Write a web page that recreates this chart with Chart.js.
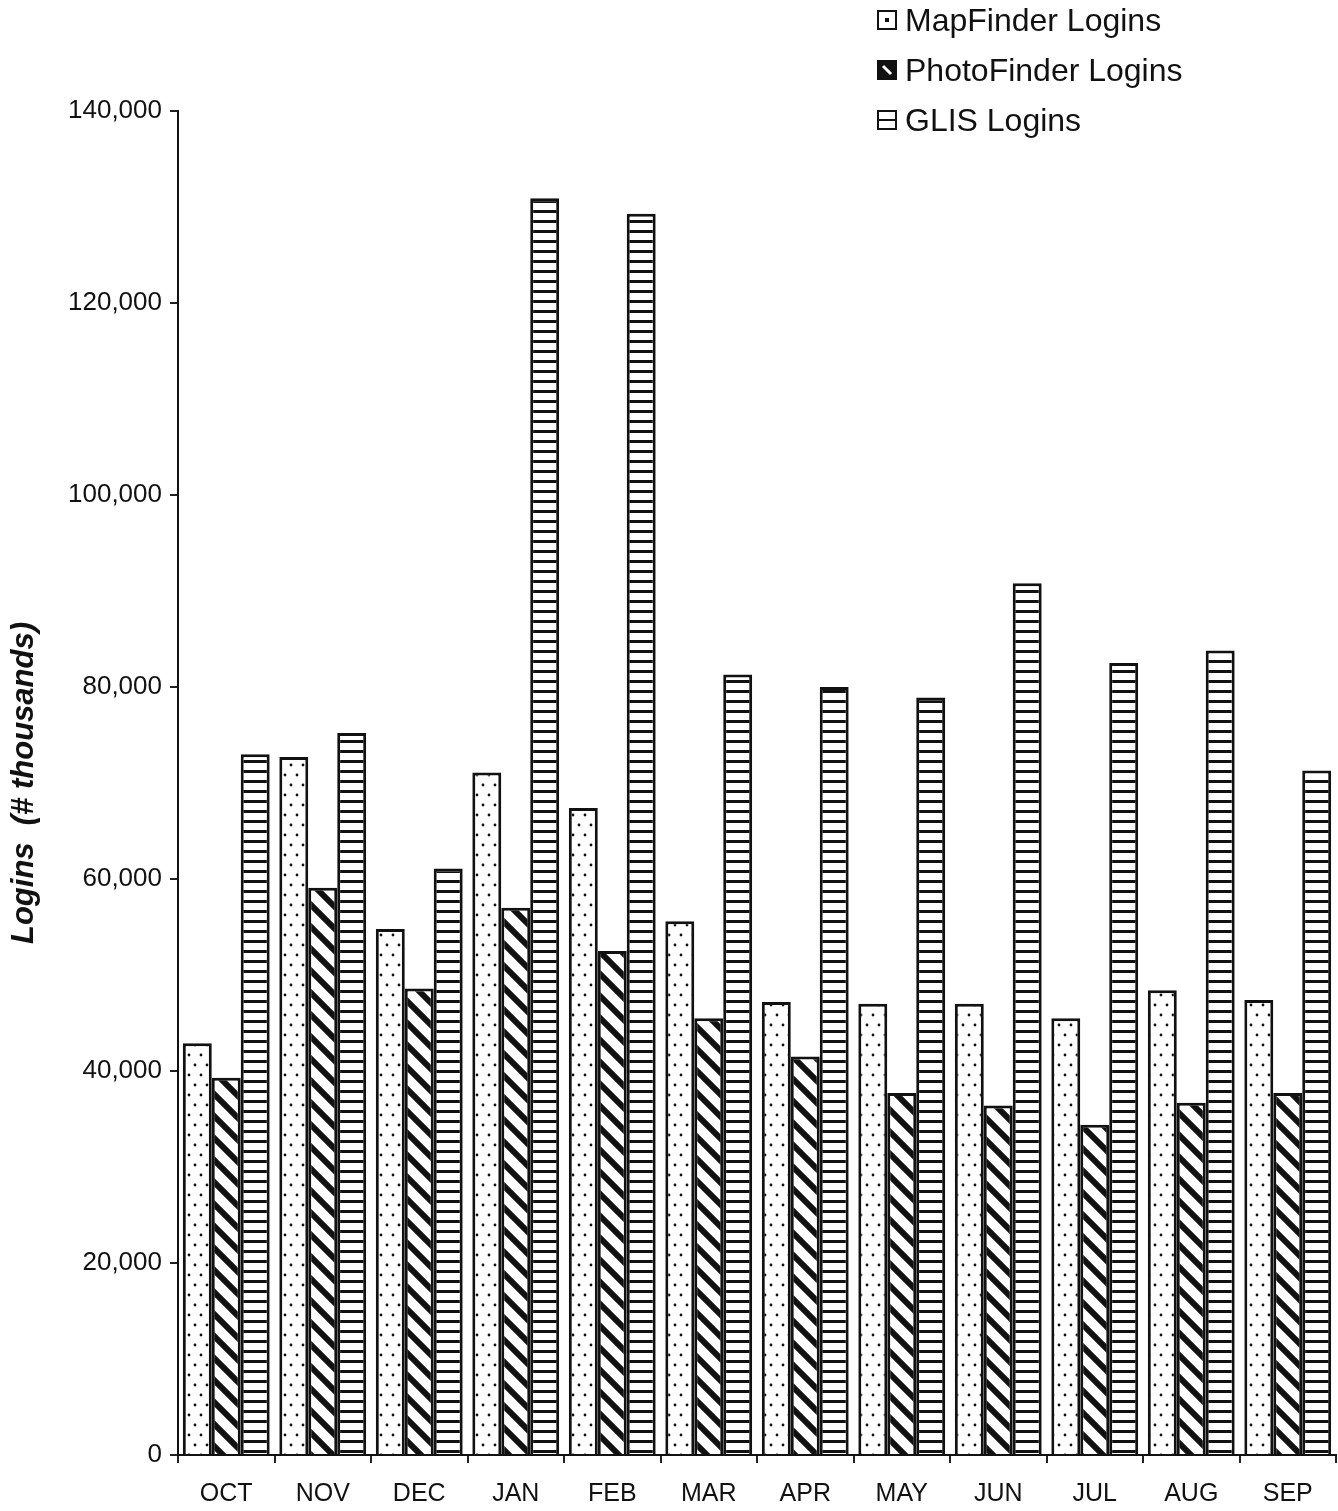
<!DOCTYPE html>
<html>
<head>
<meta charset="utf-8">
<script src="https://cdn.jsdelivr.net/npm/chart.js@4"></script>
<style>
  body { margin: 0; background: #fff; }
  #wrap { position: relative; width: 1338px; height: 1511px; }
  #legend { position: absolute; left: 877px; top: -5px; font-family: "Liberation Sans", Arial, sans-serif; font-size: 32px; color: #111; }
  #legend div { height: 50px; display: flex; align-items: center; }
  #legend canvas { margin-right: 8px; }
</style>
</head>
<body>
<div id="wrap">
  <canvas id="chart" width="1338" height="1511"></canvas>
  <div id="legend"></div>
</div>
<script>
const months = ["OCT", "NOV", "DEC", "JAN", "FEB", "MAR", "APR", "MAY", "JUN", "JUL", "AUG", "SEP"];
const mapFinder = [42900, 72700, 54800, 71100, 67400, 55600, 47200, 47000, 47000, 45500, 48400, 47400];
const photoFinder = [39300, 59100, 48600, 57000, 52500, 45500, 41500, 37700, 36400, 34400, 36700, 37700];
const glis = [73000, 75200, 61100, 130900, 129300, 81300, 80000, 78900, 90800, 82500, 83800, 71300];
const seriesNames = ["MapFinder Logins", "PhotoFinder Logins", "GLIS Logins"];
const yTicks = [0, 20000, 40000, 60000, 80000, 100000, 120000, 140000];

function tile(w, h, draw) {
  const c = document.createElement("canvas");
  c.width = w; c.height = h;
  const g = c.getContext("2d");
  g.fillStyle = "#fff";
  g.fillRect(0, 0, w, h);
  g.fillStyle = "#111";
  g.strokeStyle = "#111";
  draw(g);
  return c;
}

const ctx = document.getElementById("chart").getContext("2d");

const dotPattern = ctx.createPattern(tile(12, 20, (g) => {
  g.beginPath(); g.arc(3, 5, 1.4, 0, Math.PI * 2); g.fill();
  g.beginPath(); g.arc(9, 15, 1.4, 0, Math.PI * 2); g.fill();
}), "repeat");

const diagPattern = ctx.createPattern(tile(22, 22, (g) => {
  g.lineWidth = 6;
  g.beginPath();
  g.moveTo(-4, -4); g.lineTo(26, 26);
  g.moveTo(-26, -4); g.lineTo(4, 26);
  g.moveTo(18, -4); g.lineTo(48, 26);
  g.stroke();
}), "repeat");

const hlinePattern = ctx.createPattern(tile(10, 10, (g) => {
  g.fillRect(0, 0, 10, 3);
}), "repeat");

const patterns = [dotPattern, diagPattern, hlinePattern];

new Chart(ctx, {
  type: "bar",
  data: {
    labels: months,
    datasets: [mapFinder, photoFinder, glis].map((d, i) => ({
      label: seriesNames[i],
      data: d,
      backgroundColor: patterns[i],
      borderColor: "#111",
      borderWidth: 3,
      borderSkipped: "bottom",
      categoryPercentage: 0.9,
      barPercentage: 1.0,
    })),
  },
  options: {
    responsive: false,
    animation: false,
    layout: { padding: { top: 111, right: 2, bottom: 0, left: 0 } },
    plugins: { legend: { display: false }, tooltip: { enabled: false } },
    scales: {
      x: {
        afterFit: (s) => { s.height = 56; },
        grid: { offset: true, drawOnChartArea: false, tickLength: 8, color: "#222", lineWidth: 2 },
        border: { display: true, color: "#111", width: 2 },
        ticks: { color: "#111", padding: 16, font: { family: "Liberation Sans", size: 25 } },
      },
      y: {
        min: 0,
        max: 140000,
        afterFit: (s) => { s.width = 178; },
        afterBuildTicks: (s) => { s.ticks = yTicks.map((v) => ({ value: v })); },
        grid: { drawOnChartArea: false, tickLength: 8, color: "#222", lineWidth: 2 },
        border: { display: true, color: "#111", width: 2 },
        ticks: {
          color: "#111",
          padding: 8,
          font: { family: "Liberation Sans", size: 26 },
          callback: (v) => v.toLocaleString("en-US"),
        },
        title: {
          display: true,
          text: "Logins  (# thousands)",
          color: "#111",
          padding: { top: 6, bottom: 0 },
          font: { family: "Liberation Sans", size: 31, weight: "bold", style: "italic" },
        },
      },
    },
  },
});

// legend drawn as HTML text with small pattern swatches
const legend = document.getElementById("legend");
seriesNames.forEach((name, i) => {
  const row = document.createElement("div");
  const sw = document.createElement("canvas");
  sw.width = 20; sw.height = 20;
  const g = sw.getContext("2d");
  g.fillStyle = "#fff"; g.fillRect(0, 0, 20, 20);
  g.fillStyle = "#111"; g.strokeStyle = "#111";
  if (i === 0) {
    g.fillRect(8, 8, 4, 4);
  } else if (i === 1) {
    g.fillRect(0, 0, 20, 20);
    g.strokeStyle = "#fff"; g.lineWidth = 3;
    g.beginPath(); g.moveTo(6, 6); g.lineTo(14, 14); g.stroke();
  } else {
    g.fillRect(2, 9, 16, 2);
  }
  g.strokeStyle = "#111"; g.lineWidth = 2;
  g.strokeRect(1, 1, 18, 18);
  row.appendChild(sw);
  row.appendChild(document.createTextNode(name));
  legend.appendChild(row);
});
</script>
</body>
</html>
